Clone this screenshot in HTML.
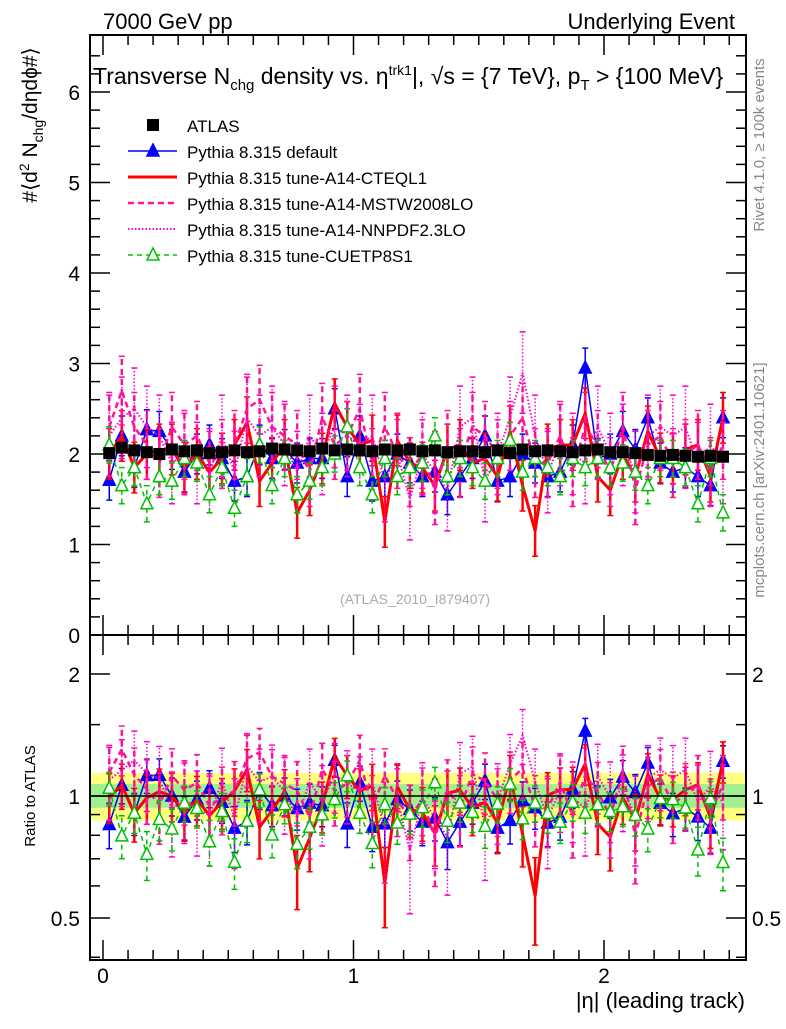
<!DOCTYPE html>
<html><head><meta charset="utf-8"><style>
body{margin:0;background:#fff;width:786px;height:1024px;overflow:hidden}
svg{font-family:"Liberation Sans",sans-serif}
</style></head><body>
<svg id="c" width="786" height="1024" xmlns="http://www.w3.org/2000/svg">
<text x="103" y="29" font-size="22">7000 GeV pp</text>
<text x="735" y="29" font-size="22" text-anchor="end">Underlying Event</text>
<text x="93" y="84" font-size="23">Transverse N<tspan font-size="15" dy="6">chg</tspan><tspan dy="-6"> density vs. η</tspan><tspan font-size="14" dy="-9">trk1</tspan><tspan dy="9">|, √s = {7 TeV}, p</tspan><tspan font-size="15" dy="6">T</tspan><tspan dy="-6"> &gt; {100 MeV}</tspan></text>
<text transform="translate(37,125) rotate(-90)" font-size="21" text-anchor="middle">#⟨d<tspan font-size="14" dy="-8">2</tspan><tspan dy="8"> N</tspan><tspan font-size="14" dy="6">chg</tspan><tspan dy="-6">/dηdϕ#⟩</tspan></text>
<text transform="translate(35,796) rotate(-90)" font-size="15" text-anchor="middle">Ratio to ATLAS</text>
<text transform="translate(764,145) rotate(-90)" font-size="15" fill="#888" text-anchor="middle">Rivet 4.1.0, ≥ 100k events</text>
<text transform="translate(764,480) rotate(-90)" font-size="15" fill="#888" text-anchor="middle">mcplots.cern.ch [arXiv:2401.10621]</text>
<text x="415" y="604" font-size="14" fill="#aaa" text-anchor="middle">(ATLAS_2010_I879407)</text>
<text x="745" y="1008" font-size="22" text-anchor="end">|η| (leading track)</text>
<g id="legend"></g>
<g id="plots"></g>
</svg>
<script>
const etaCenters=[];for(let i=0;i<50;i++)etaCenters.push(0.025+0.05*i);
const atlas=[2.01,2.07,2.04,2.02,2.0,2.05,2.03,2.04,2.01,2.02,2.04,2.02,2.03,2.06,2.05,2.04,2.03,2.06,2.04,2.05,2.04,2.03,2.05,2.04,2.05,2.03,2.04,2.02,2.03,2.03,2.02,2.04,2.01,2.05,2.03,2.04,2.03,2.02,2.04,2.05,2.02,2.02,2.01,1.99,1.98,1.99,1.98,1.97,1.98,1.97];
const blue=[1.71,2.2,1.85,2.27,2.25,2.05,1.8,2.0,2.1,1.95, 1.7,1.75,2.1,1.95,2.05,1.9,1.95,1.95,2.5,1.75, 2.2,1.7,1.75,2.0,1.9,1.75,1.8,1.55,1.75,1.95, 2.2,1.7,1.75,2.0,1.9,1.75,1.8,2.1,2.95,1.95, 2.0,2.25,2.05,2.4,1.9,1.8,1.85,1.75,1.65,2.4];
const red=[2.0,2.2,1.85,2.0,2.05,2.05,1.85,2.0,1.8,1.95, 2.1,2.35,1.7,1.9,2.1,1.35,1.6,1.95,2.55,2.3, 2.1,2.15,1.25,2.15,1.9,1.85,1.65,2.05,2.1,1.9, 1.95,1.75,2.25,1.65,1.15,2.05,2.1,2.1,2.45,1.75, 1.6,2.0,1.75,2.25,1.95,1.95,2.05,2.1,1.75,2.4];
const mstw=[2.3,2.7,2.3,2.1,1.9,2.3,2.1,2.2,1.9,2.0, 2.1,2.5,2.6,2.3,2.2,2.1,1.8,2.4,2.1,2.2, 2.5,1.9,2.3,2.0,1.8,2.0,1.6,2.1,1.9,2.3, 2.2,2.0,2.2,2.4,1.9,1.9,2.2,1.8,2.3,2.1, 1.8,2.3,1.6,2.1,2.2,1.9,2.0,2.1,1.8,2.1];
const nnpdf=[2.2,2.4,2.5,2.3,2.2,1.9,2.0,1.9,1.8,2.2, 1.8,2.4,2.2,2.3,2.1,1.8,2.2,2.0,2.3,2.2, 2.1,2.2,1.7,2.0,1.5,2.0,1.8,1.6,2.3,2.4, 1.7,2.0,2.4,2.9,2.2,1.8,2.1,2.0,1.9,2.3, 2.0,2.1,1.8,2.2,2.3,2.2,2.3,1.9,2.1,1.9];
const cuetp=[2.1,1.65,1.85,1.45,1.75,1.7,1.95,1.9,1.55,1.85, 1.4,1.75,2.1,1.65,1.95,1.55,1.7,1.85,2.0,2.3, 1.85,1.55,1.95,1.75,1.85,1.9,2.2,1.75,1.95,1.85, 1.7,1.95,2.15,1.8,1.95,1.85,1.75,1.95,1.85,1.95, 1.85,1.9,1.8,1.65,1.95,1.95,1.85,1.45,1.95,1.35];
const seriesErr=[0.02,0.22,0.28,0.38,0.45,0.2];
const mainTicks=[0,1,2,3,4,5,6];
const ratioTicks=[0.5,1,2];
const xTicks=[0,1,2];

const NS="http://www.w3.org/2000/svg";
const svg=document.getElementById('c'), plots=document.getElementById('plots'), leg=document.getElementById('legend');
const L=90,R=746,T=35,MB=635,RB=960;
const xs=v=>103+250.5*v;
const ym=v=>635-90.5*v;
const yr=v=>796-122*Math.log2(v);
function el(tag,attrs,parent){const e=document.createElementNS(NS,tag);for(const k in attrs)e.setAttribute(k,attrs[k]);(parent||plots).appendChild(e);return e;}
const defs=el('defs',{},svg);
const c1=el('clipPath',{id:'cm'},defs);el('rect',{x:L,y:T,width:R-L,height:MB-T},c1);
const c2=el('clipPath',{id:'cr'},defs);el('rect',{x:L,y:MB,width:R-L,height:RB-MB},c2);
const gm=el('g',{'clip-path':'url(#cm)'});


const gr=el('g',{'clip-path':'url(#cr)'});


const bandY=el('rect',{x:L,y:yr(1.14),width:R-L,height:yr(0.87)-yr(1.14),fill:'#ffff80'},gr);


const bandG=el('rect',{x:L,y:yr(1.07),width:R-L,height:yr(0.935)-yr(1.07),fill:'#a0f090'},gr);


const ser=[
 {name:'pythia-default',d:blue,c:'#0000ff',w:1.5,dash:'',m:'tri',fill:true,ei:1},
 {name:'pythia-a14-cteql1',d:red,c:'#ff0000',w:3,dash:'',m:null,ei:2},
 {name:'pythia-a14-mstw2008lo',d:mstw,c:'#ff1493',w:2.5,dash:'6,4',m:null,ei:3},
 {name:'pythia-a14-nnpdf23lo',d:nnpdf,c:'#ff00cc',w:2,dash:'1.5,2',m:null,ei:4},
 {name:'pythia-cuetp8s1',d:cuetp,c:'#00c000',w:1.5,dash:'5,4',m:'tri',fill:false,ei:5}];
function tri(g,x,y,c,f){return el('polygon',{points:`${x},${y-7} ${x-6},${y+5} ${x+6},${y+5}`,fill:f?c:'#fff','stroke':c,'stroke-width':1.5},g);}
function drawPanel(g,yf,ratio){
 ser.forEach(s=>{
  const sg=el('g',{},g);
  
  
  const pts=[];
  s.d.forEach((v,i)=>{
   const val=ratio?v/atlas[i]:v, e=ratio?seriesErr[s.ei]/atlas[i]:seriesErr[s.ei];
   const x=xs(etaCenters[i]),y=yf(val),y1=yf(Math.max(val-e,0.05)),y2=yf(val+e);
   pts.push(x+','+y);
   const eb=el('line',{x1:x,x2:x,y1:y1,y2:y2,stroke:s.c,'stroke-width':s.w>2?2.5:1.5,'stroke-dasharray':s.dash},sg);
   
   
   el('line',{x1:x-3,x2:x+3,y1:y1,y2:y1,stroke:s.c,'stroke-width':1.5},sg);
   el('line',{x1:x-3,x2:x+3,y1:y2,y2:y2,stroke:s.c,'stroke-width':1.5},sg);
  });
  const pl=el('polyline',{points:pts.join(' '),fill:'none',stroke:s.c,'stroke-width':s.w,'stroke-dasharray':s.dash},sg);
  
  
  if(s.m){s.d.forEach((v,i)=>{const val=ratio?v/atlas[i]:v;const m=tri(sg,xs(etaCenters[i]),yf(val),s.c,s.fill);
   
   });}
 });
}
drawPanel(gm,ym,false);
atlas.forEach((v,i)=>{const x=xs(etaCenters[i]);
 const r=el('rect',{x:x-6,y:ym(v)-6,width:12,height:12,fill:'#000'},gm);
 
 });
drawPanel(gr,yr,true);
const one=el('line',{x1:L,x2:R,y1:yr(1),y2:yr(1),stroke:'#000','stroke-width':1.5},gr);


const f1=el('rect',{x:L,y:T,width:R-L,height:MB-T,fill:'none',stroke:'#000','stroke-width':2});


const f2=el('rect',{x:L,y:MB,width:R-L,height:RB-MB,fill:'none',stroke:'#000','stroke-width':2});


for(let v=0;v<=6.6;v+=0.2){const y=ym(v);if(y<T)break;const maj=Math.abs(v-Math.round(v))<1e-6;const len=maj?20:10;
 el('line',{x1:L,x2:L+len,y1:y,y2:y,stroke:'#000','stroke-width':1.5});el('line',{x1:R,x2:R-len,y1:y,y2:y,stroke:'#000','stroke-width':1.5});}
mainTicks.forEach(v=>{const t=el('text',{x:80,y:ym(v)+8,'font-size':21,'text-anchor':'end'});t.textContent=v;
 
 });
[0.4,0.6,0.7,0.8,0.9,1.5].forEach(v=>{const y=yr(v);el('line',{x1:L,x2:L+10,y1:y,y2:y,stroke:'#000','stroke-width':1.5});el('line',{x1:R,x2:R-10,y1:y,y2:y,stroke:'#000','stroke-width':1.5});});
ratioTicks.forEach(v=>{const y=yr(v);el('line',{x1:L,x2:L+20,y1:y,y2:y,stroke:'#000','stroke-width':1.5});el('line',{x1:R,x2:R-20,y1:y,y2:y,stroke:'#000','stroke-width':1.5});
 const t=el('text',{x:80,y:y+8,'font-size':21,'text-anchor':'end'});t.textContent=v;
 
 
 const t2=el('text',{x:752,y:y+8,'font-size':21});t2.textContent=v;
 
 });
for(let k=0;k<=26;k++){const v=k/10,x=xs(v);if(x>R)break;const maj=k%10==0;const len=maj?20:10;
 [[T,1],[MB,-1],[MB,1],[RB,-1]].forEach(([y0,d])=>el('line',{x1:x,x2:x,y1:y0,y2:y0+d*len,stroke:'#000','stroke-width':1.5}));}
xTicks.forEach(v=>{const t=el('text',{x:xs(v),y:983,'font-size':21,'text-anchor':'middle'});t.textContent=v;
 
 });
const legItems=[['ATLAS','#000','', 'sq'],['Pythia 8.315 default','#0000ff','','tri',true,1.5],['Pythia 8.315 tune-A14-CTEQL1','#ff0000','',null,0,3],['Pythia 8.315 tune-A14-MSTW2008LO','#ff1493','6,4',null,0,2.5],['Pythia 8.315 tune-A14-NNPDF2.3LO','#ff00cc','1.5,2',null,0,2],['Pythia 8.315 tune-CUETP8S1','#00c000','5,4','tri',false,1.5]];
legItems.forEach((it,i)=>{const y=125+i*26;const g=el('g',{},leg);
 
 
 if(it[3]==='sq'){el('rect',{x:147,y:y-6,width:12,height:12,fill:'#000'},g);}
 else{el('line',{x1:128,x2:177,y1:y,y2:y,stroke:it[1],'stroke-width':it[5],'stroke-dasharray':it[2]},g);
  if(it[3]==='tri')tri(g,153,y,it[1],it[4]);}
 const t=el('text',{x:187,y:y+7,'font-size':17},g);t.textContent=it[0];});
</script>
</body></html>
